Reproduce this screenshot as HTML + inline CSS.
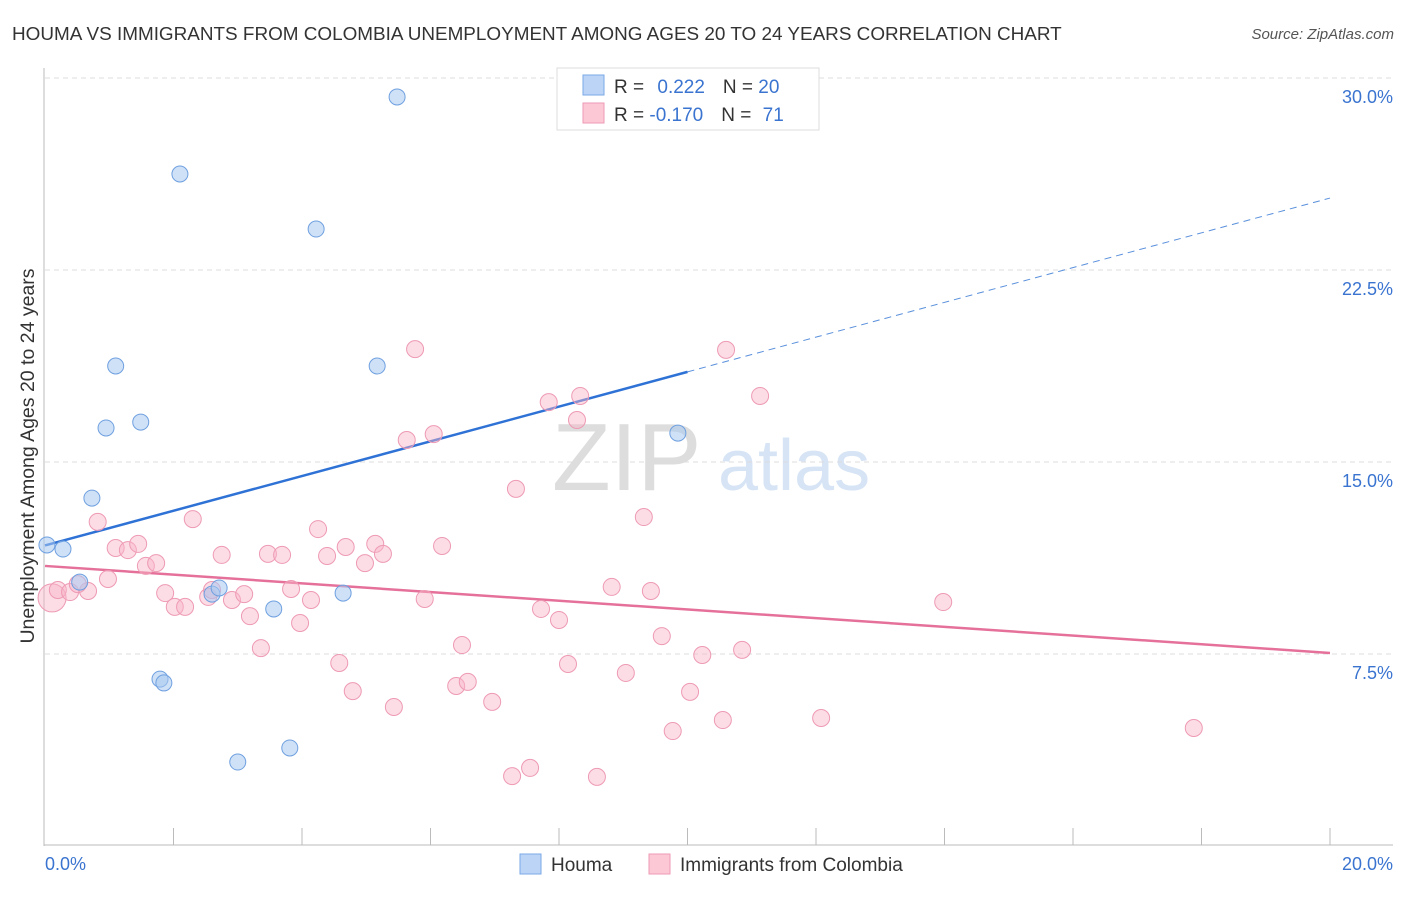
<!DOCTYPE html>
<html><head><meta charset="utf-8"><style>
body{margin:0;background:#fff;font-family:"Liberation Sans",sans-serif;}
svg text{font-family:"Liberation Sans",sans-serif;}
</style></head><body>
<svg id="chart" width="1406" height="892" viewBox="0 0 1406 892">
<text x="12" y="40" font-size="18.9" fill="#333">HOUMA VS IMMIGRANTS FROM COLOMBIA UNEMPLOYMENT AMONG AGES 20 TO 24 YEARS CORRELATION CHART</text>
<text x="1394" y="39" font-size="15" fill="#555" font-style="italic" text-anchor="end">Source: ZipAtlas.com</text>
<text x="0" y="0" transform="translate(34,456) rotate(-90)" font-size="19.5" fill="#333" text-anchor="middle">Unemployment Among Ages 20 to 24 years</text>
<g><text x="552" y="490" font-size="96" fill="#ddd" font-family="Liberation Serif">ZIP</text><text x="718" y="490" font-size="72" fill="#d6e4f5">atlas</text></g>
<g id="grid"></g><g id="axes"></g><g id="lines"></g><g id="points"></g>
<g>
<rect x="557" y="68" width="262" height="62" fill="#fff" stroke="#ddd"/>
<rect x="583" y="75" width="21" height="20" fill="#bcd4f5" stroke="#7aaae6"/>
<rect x="583" y="103" width="21" height="20" fill="#fcc8d6" stroke="#ee9ab4"/>
<text x="614" y="93" font-size="19" fill="#333">R = <tspan fill="#3a74d0" dx="8">0.222</tspan><tspan dx="18" fill="#333">N = </tspan><tspan fill="#3a74d0">20</tspan></text>
<text x="614" y="121" font-size="19" fill="#333">R = <tspan fill="#3a74d0">-0.170</tspan><tspan dx="18" fill="#333">N = </tspan><tspan fill="#3a74d0" dx="6">71</tspan></text>
</g>
<g>
<rect x="520" y="854" width="21" height="20" fill="#bcd4f5" stroke="#7aaae6"/>
<text x="551" y="871" font-size="19" fill="#333">Houma</text>
<rect x="649" y="854" width="21" height="20" fill="#fcc8d6" stroke="#ee9ab4"/>
<text x="680" y="871" font-size="19" fill="#333">Immigrants from Colombia</text>
</g>
</svg>
<script>
const yTicks=[7.5,15,22.5,30];
const yTickLabels=["7.5%","15.0%","22.5%","30.0%"];
const houmaX=[5.48,2.10,4.22,1.10,5.17,0.95,1.49,0.73,0.03,0.28,0.54,2.60,2.71,3.56,4.64,1.79,1.85,3.81,3.00,9.85];
const houmaY=[29.26,26.25,24.10,18.75,18.75,16.33,16.56,13.59,11.76,11.60,10.31,9.84,10.08,9.26,9.88,6.52,6.37,3.83,3.28,16.13];
const colX=[0.11,0.20,0.39,0.67,0.51,0.98,0.82,1.10,1.29,1.45,1.57,1.73,1.87,2.02,2.18,2.30,2.75,2.54,2.60,2.91,3.10,3.19,3.36,3.47,3.69,3.83,3.97,4.14,4.25,4.39,4.58,4.68,4.79,4.98,5.14,5.26,5.43,5.76,5.63,5.91,6.05,6.18,6.40,6.49,6.58,6.96,7.27,7.33,7.55,7.72,7.84,8.00,8.14,8.33,8.28,8.59,8.82,9.04,9.32,9.43,9.60,9.77,10.04,10.23,10.55,10.60,10.85,11.13,12.08,13.98,17.88];
const colY=[9.69,10.0,9.92,9.96,10.23,10.43,12.66,11.64,11.56,11.80,10.94,11.05,9.88,9.34,9.34,12.77,11.37,9.73,10.0,9.61,9.84,8.98,7.73,11.41,11.37,10.04,8.71,9.61,12.38,11.33,7.15,11.68,6.05,11.05,11.80,11.41,5.43,19.41,15.86,9.65,16.09,11.72,6.25,7.85,6.41,5.63,2.73,13.95,3.05,9.26,17.34,8.83,7.11,17.58,16.64,2.70,10.12,6.76,12.85,9.96,8.20,4.49,6.02,7.46,4.92,19.38,7.66,17.58,5.0,9.53,4.61];
const houmaTrend=[11.74,18.52,25.31];
const colTrend=[10.94,7.54];
const NS="http://www.w3.org/2000/svg";
const sx=v=>45+v/20*1285;
const sy=v=>846-v/7.5*192;
function mk(t,a,p){const e=document.createElementNS(NS,t);for(const k in a)e.setAttribute(k,a[k]);p.appendChild(e);return e;}
const grid=document.getElementById('grid'),axes=document.getElementById('axes'),lines=document.getElementById('lines'),pts=document.getElementById('points');
yTicks.forEach((t,i)=>{
 const l=mk('line',{x1:45,x2:1393,y1:sy(t),y2:sy(t),stroke:'#ddd','stroke-dasharray':'5,4'},grid);
 
 
 const tx=mk('text',{x:1393,y:sy(t)+25,'font-size':18,fill:'#3a74d0','text-anchor':'end'},grid);
 tx.textContent=yTickLabels[i];
 
 
});
mk('line',{x1:44,x2:44,y1:68,y2:846,stroke:'#bbb'},axes);
mk('line',{x1:44,x2:1393,y1:845,y2:845,stroke:'#bbb'},axes);
for(let i=1;i<=10;i++){const t=mk('line',{x1:sx(i*2),x2:sx(i*2),y1:828,y2:845,stroke:'#bbb'},axes);}
const x0=mk('text',{x:45,y:870,'font-size':18,fill:'#3a74d0'},axes);x0.textContent='0.0%';


const x1=mk('text',{x:1393,y:870,'font-size':18,fill:'#3a74d0','text-anchor':'end'},axes);x1.textContent='20.0%';


function dot(x,y,r,f,s,name){const c=mk('circle',{cx:sx(x),cy:sy(y),r:r,fill:f,stroke:s,'stroke-width':1},pts);
 
 }
colX.forEach((x,i)=>dot(x,colY[i],i==0?14:8.5,'rgba(248,180,200,0.45)','#ee9ab4','point-colombia'));
houmaX.forEach((x,i)=>dot(x,houmaY[i],8,'rgba(168,200,240,0.55)','#6fa0e0','point-houma'));
const b1=mk('line',{x1:sx(0),y1:sy(houmaTrend[0]),x2:sx(10),y2:sy(houmaTrend[1]),stroke:'#2f72d6','stroke-width':2.5},lines);


const b2=mk('line',{x1:sx(10),y1:sy(houmaTrend[1]),x2:sx(20),y2:sy(houmaTrend[2]),stroke:'#5a90dc','stroke-width':1,'stroke-dasharray':'7,5'},lines);


const p1=mk('line',{x1:sx(0),y1:sy(colTrend[0]),x2:sx(20),y2:sy(colTrend[1]),stroke:'#e5719a','stroke-width':2.5},lines);


</script>
</body></html>
